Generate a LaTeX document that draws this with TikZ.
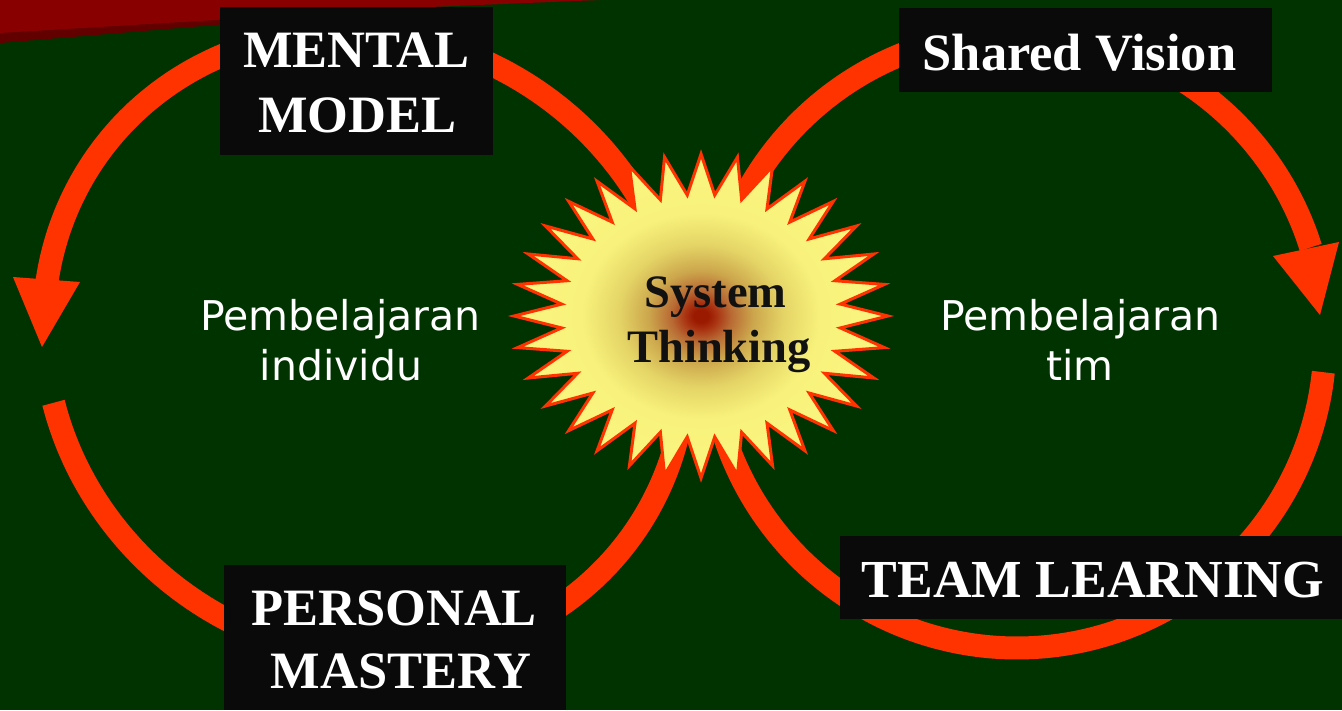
\documentclass[tikz,border=0pt]{standalone}
\usepackage{fontspec}
\setmainfont{Liberation Serif}
\newfontfamily\sansf{DejaVu Sans}
\definecolor{bgc}{HTML}{003300}
\definecolor{loopc}{HTML}{FF3300}
\definecolor{boxc}{HTML}{0A0A0A}
\definecolor{redc}{HTML}{880000}
\definecolor{redd}{HTML}{620000}
\definecolor{sca}{HTML}{9A1A00}
\definecolor{scb}{HTML}{A83010}
\definecolor{scc}{HTML}{B86A34}
\definecolor{scd}{HTML}{CCA64C}
\definecolor{sce}{HTML}{E4D466}
\definecolor{scf}{HTML}{F8F27C}
\definecolor{scg}{HTML}{FFFF82}
\definecolor{stc}{HTML}{111111}
\pgfdeclareradialshading{starshade}{\pgfpoint{0bp}{0bp}}{color(0bp)=(sca); color(1bp)=(sca); color(2bp)=(scb); color(4bp)=(scc); color(7bp)=(scd); color(11bp)=(sce); color(16bp)=(scf); color(50bp)=(scg)}
\begin{document}
\begin{tikzpicture}[x=1pt,y=-1pt,
  loopline/.style={draw=loopc, line width=23, line cap=butt, line join=round},
  tip/.style={fill=loopc},
  lbox/.style={fill=boxc, draw=none, inner sep=0, anchor=north west},
  ltext/.style={text=white, font=\fontsize{52.5}{60}\selectfont\bfseries, inner sep=0, anchor=base},
  stext/.style={text=white, font=\sansf\fontsize{41}{50}\selectfont, inner sep=0, anchor=base},
  ctext/.style={text=stc, font=\fontsize{46.5}{55}\selectfont\bfseries, inner sep=0, anchor=base}]
\fill[bgc] (0,0) rectangle (1342,710);
\useasboundingbox (0,0) rectangle (1342,710);
% top-left red band
\fill[redd] (0,30) -- (430,7) -- (0,43) -- cycle;
\fill[redc] (0,0) -- (600,0) -- (430,7) -- (0,33) -- cycle;
% left loop: tilted ellipse, centre (365,345), semi-axes 328 and 307, tilted 35 degrees
\draw[loopline] plot[domain=-205:132.6, samples=160, variable=\t, smooth]
  ({365 + 328*cos(\t)*0.8192 - 307*sin(\t)*0.5736}, {345 + 328*cos(\t)*0.5736 + 307*sin(\t)*0.8192});
\fill[tip] (13,277) -- (80,282) -- (42,347) -- cycle;
% right loop: circle, centre (1017,340), radius 308
\draw[loopline] plot[domain=6:342.5, samples=160, variable=\t, smooth]
  ({1017 + 308*cos(\t)}, {340 + 308*sin(\t)});
\fill[tip] (1273,256) -- (1339,242) -- (1320,315) -- cycle;
% star
\begin{scope}[shift={(701,316)}]
\shadedraw[shading=starshade, draw=loopc, line width=3]
  (0:187 and 162) \foreach \k in {1,...,31} { -- ({\k*11.25-5.625}:140 and 121.5) -- ({\k*11.25}:187 and 162) } -- ({360-5.625}:140 and 121.5) -- cycle;
\end{scope}
\node[ctext] (sys) at (715.5,307) {System};
\node[ctext] (thk) at (719,362) {Thinking};
% boxes
\node[lbox, minimum width=273, minimum height=148] (mmbox) at (220,7) {};
\node[lbox, minimum width=373, minimum height=84] (svbox) at (899,8) {};
\node[lbox, minimum width=342, minimum height=145] (pmbox) at (224,565) {};
\node[lbox, minimum width=502, minimum height=83] (tlbox) at (840,536) {};
\node[ltext] (mm1) at (356.5,67) {MENTAL};
\node[ltext] (mm2) at (357.5,132) {MODEL};
\node[ltext] (sv) at (1079.5,70) {Shared Vision};
\node[ltext] (pm1) at (394,625) {PERSONAL};
\node[ltext] (pm2) at (401,688) {MASTERY};
\node[ltext, font=\fontsize{53.5}{60}\selectfont\bfseries] (tl) at (1093,597) {TEAM LEARNING};
% inner texts
\node[stext] (pi1) at (340.5,330) {Pembelajaran};
\node[stext] (pi2) at (341,380) {individu};
\node[stext] (pt1) at (1080.5,330) {Pembelajaran};
\node[stext] (pt2) at (1080,380) {tim};
\end{tikzpicture}
\end{document}
